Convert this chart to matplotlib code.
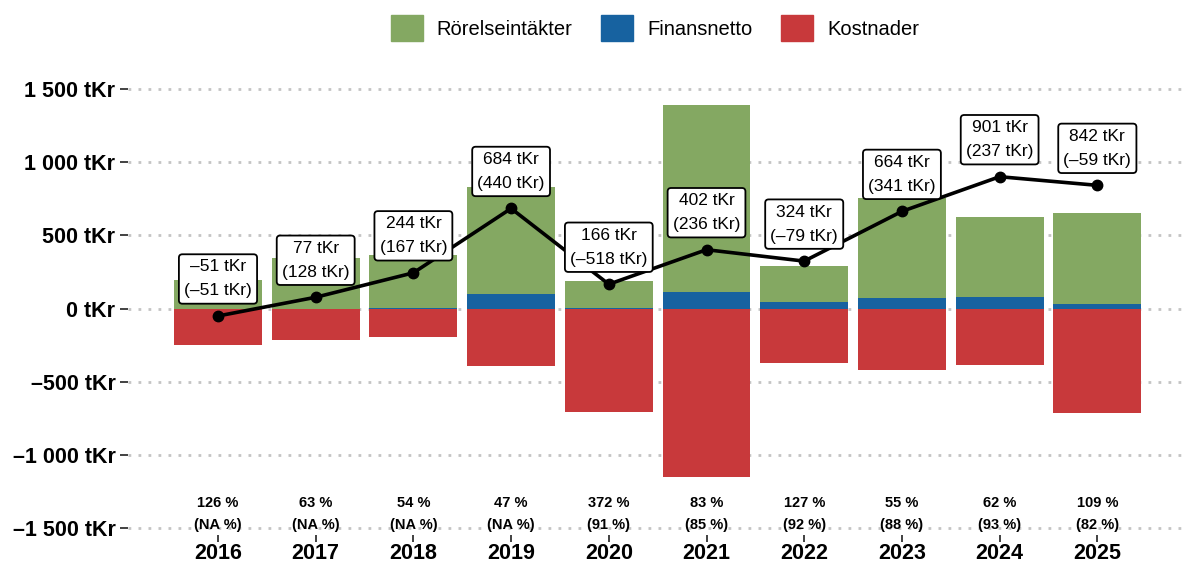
import numpy as np
import matplotlib
matplotlib.use("Agg")
import matplotlib.pyplot as plt
from matplotlib.patches import Patch

plt.rcParams['font.family'] = ['Liberation Sans', 'DejaVu Sans']

# data (tKr)
years = [2016, 2017, 2018, 2019, 2020, 2021, 2022, 2023, 2024, 2025]
finansnetto = [0, 0, 5, 96, 3, 111, 43, 69, 77, 28]
rorelse = [197, 346, 358, 734, 187, 1277, 250, 689, 547, 628]
kostnader = [-248, -218, -197, -390, -708, -1152, -372, -417, -387, -715]
resultat = [-51, 128, 167, 440, -518, 236, -79, 341, 237, -59]
ackumulerat = [-51, 77, 244, 684, 166, 402, 324, 664, 901, 842]
kostnadsgrad = ["126 %", "63 %", "54 %", "47 %", "372 %", "83 %", "127 %", "55 %", "62 %", "109 %"]
kostnadsgrad_ack = ["NA %", "NA %", "NA %", "NA %", "91 %", "85 %", "92 %", "88 %", "93 %", "82 %"]

green = "#84a862"
blue = "#1762a0"
red = "#c8393b"


def tkr(v):
    """Format like '1 500 tKr' with a dash for negatives."""
    s = f"{abs(v):,}".replace(",", " ")
    return ("\u2013" if v < 0 else "") + s + " tKr"


fig = plt.figure(figsize=(11.84, 5.65), dpi=100)
ax = fig.add_axes([128 / 1184, 30 / 565, 1056 / 1184, 461 / 565])

x = np.arange(len(years))
ax.bar(x, finansnetto, width=0.9, color=blue, zorder=2)
ax.bar(x, rorelse, width=0.9, bottom=finansnetto, color=green, zorder=2)
ax.bar(x, kostnader, width=0.9, color=red, zorder=2)

ax.plot(x, ackumulerat, color="black", lw=2.6, marker="o", ms=7.5, zorder=3)

for i in range(len(years)):
    ax.annotate(tkr(ackumulerat[i]) + "\n(" + tkr(resultat[i]) + ")",
                xy=(x[i], ackumulerat[i]), xytext=(0, 37), textcoords="offset pixels",
                ha="center", va="center", fontsize=12.5, linespacing=1.75, zorder=4,
                bbox=dict(boxstyle="round,pad=0.3,rounding_size=0.2", fc="white", ec="black", lw=1.3))
    ax.text(x[i], -1329, kostnadsgrad[i], ha="center", va="center",
            fontsize=10.5, fontweight="bold", zorder=4)
    ax.text(x[i], -1478, "(" + kostnadsgrad_ack[i] + ")", ha="center", va="center",
            fontsize=10.5, fontweight="bold", zorder=4)

yt = [-1500, -1000, -500, 0, 500, 1000, 1500]
ax.set_yticks(yt)
ax.set_yticklabels([tkr(v) for v in yt], fontsize=15.5, fontweight="bold")
ax.set_xticks(x)
ax.set_xticklabels([str(y) for y in years], fontsize=15.5, fontweight="bold")
ax.set_xlim(-0.921, 9.887)
ax.set_ylim(-1548, 1603)

ax.yaxis.grid(True, color="#c4c4c4", lw=2, linestyle=(0, (1, 2.6)), zorder=0)
ax.set_axisbelow(True)
for s in ax.spines.values():
    s.set_visible(False)
ax.tick_params(axis="y", length=6, width=1.3, color="#333333", pad=3)
ax.tick_params(axis="x", length=5, width=1.3, color="#333333", pad=1)

handles = [Patch(color=green, label="Rörelseintäkter"),
           Patch(color=blue, label="Finansnetto"),
           Patch(color=red, label="Kostnader")]
fig.legend(handles=handles, loc="center", bbox_to_anchor=(0.553, 0.95), ncol=3,
           frameon=False, fontsize=14.5, handlelength=1.6, handleheight=1.6,
           handletextpad=0.7, columnspacing=1.4)

fig.savefig("out.png", dpi=100)
